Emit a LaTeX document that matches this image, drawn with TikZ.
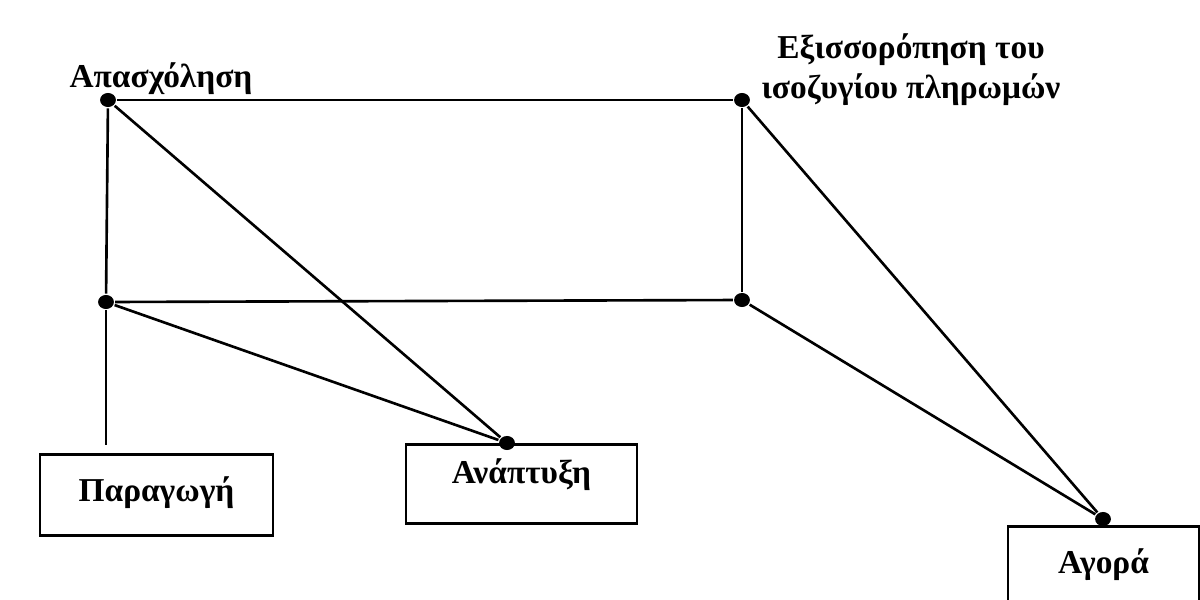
\documentclass[tikz,border=0pt]{standalone}
\usepackage{fontspec}
\setmainfont{Liberation Serif}
\usetikzlibrary{shapes.geometric}

\begin{document}
\begin{tikzpicture}[x=0.02cm, y=-0.02cm, line width=1.5pt,
    dot/.style={ellipse, fill, inner sep=0pt, minimum width=9pt, minimum height=8pt},
    box/.style={draw, rectangle, inner sep=0pt, anchor=north},
    lbl/.style={font=\fontsize{19}{22.7}\selectfont\bfseries}]
    \useasboundingbox (0,0) rectangle (1200,599);
    % corners of the frame
    \node[dot] (empl) at (108,100) {};
    \node[dot] (bal) at (742,100) {};
    \node[dot] (low) at (106,302) {};
    \node[dot] (lowr) at (742,300) {};
    % boxes and their dots
    \node[box, lbl, minimum width=4.66cm, text height=0.94cm, text depth=0.68cm] (prod) at (156.5,453) {Παραγωγή};
    \node[box, lbl, minimum width=4.62cm, text height=0.78cm, text depth=0.80cm] (devt) at (521.5,443) {Ανάπτυξη};
    \node[box, lbl, minimum width=3.82cm, text height=0.94cm, text depth=0.96cm] (mkt) at (1103.5,525) {Αγορά};
    \node[dot] (devdot) at (507,443) {};
    \node[dot] (mktdot) at (1103,519) {};
    \coordinate (stub) at (106,445);
    % labels
    \node[lbl, anchor=base] (emplt) at (161,87) {Απασχόληση};
    \node[lbl, align=center] (balt) at (911,70) {Εξισσορόπηση του\\ισοζυγίου πληρωμών};
    % connectors
    \foreach \a/\b in {empl/bal, empl/low, low/lowr, bal/lowr, empl/devdot, low/devdot, bal/mktdot, lowr/mktdot, low/stub}
        \draw (\a) -- (\b);
\end{tikzpicture}
\end{document}
